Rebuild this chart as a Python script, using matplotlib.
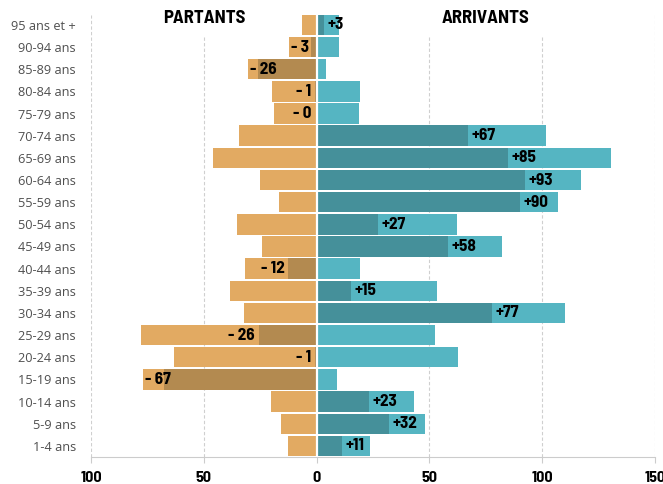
import matplotlib.pyplot as plt

# age groups, bottom to top
ages = ['1-4 ans', '5-9 ans', '10-14 ans', '15-19 ans', '20-24 ans', '25-29 ans',
        '30-34 ans', '35-39 ans', '40-44 ans', '45-49 ans', '50-54 ans', '55-59 ans',
        '60-64 ans', '65-69 ans', '70-74 ans', '75-79 ans', '80-84 ans', '85-89 ans',
        '90-94 ans', '95 ans et +']

partants = [12.7, 15.7, 20.0, 76.9, 63.4, 77.9, 32.4, 38.2, 31.6, 24.1, 35.1, 16.7,
            24.9, 45.9, 34.5, 19.1, 19.7, 30.5, 12.3, 6.5]
arrivants = [23.8, 48.0, 43.3, 9.2, 62.7, 52.3, 110.0, 53.3, 19.1, 82.2, 62.2, 107.0,
             117.3, 130.7, 101.6, 18.7, 19.1, 4.3, 9.8, 9.8]
solde_labels = ['+11', '+32', '+23', '- 67', '- 1', '- 26', '+77', '+15', '- 12', '+58',
                '+27', '+90', '+93', '+85', '+67', '- 0', '- 1', '- 26', '- 3', '+3']

c_part = '#E2AA62'
c_part_dark = '#B38A50'
c_arr = '#55B5C2'
c_arr_dark = '#45909A'

cond = ['Barlow Semi Condensed', 'DejaVu Sans']
bold = dict(family=cond, fontweight='bold', color='black')

fig = plt.figure(figsize=(6.63, 4.84), dpi=100)
ax = fig.add_axes([0.1373, 0.0558, 0.8506, 0.9152])

y = list(range(len(ages)))
h = 0.92

# grille
for gx in [-100, 150]:
    ax.plot([gx, gx], [-0.5, 19.45], ls=(0, (3, 2)), color='#cfcfcf', lw=0.8, zorder=0)
for gx in [-50, 50, 100]:
    ax.plot([gx, gx], [-0.5, 18.5], ls=(0, (3, 2)), color='#cfcfcf', lw=0.8, zorder=0)

ax.barh(y, [-p for p in partants], height=h, color=c_part, zorder=2)
ax.barh(y, arrivants, height=h, color=c_arr, zorder=2)

fs = 12.3
for i in y:
    s = arrivants[i] - partants[i]
    if s >= 0:
        ax.barh(i, s, height=h, color=c_arr_dark, zorder=3)
        ax.text(s + 1.5, i, solde_labels[i], ha='left', va='center', fontsize=fs, zorder=5, **bold)
    else:
        ax.barh(i, s, height=h, color=c_part_dark, zorder=3)
        xr = s - 1.8
        if xr - 10 < -partants[i]:
            ax.text(-partants[i] + 1, i, solde_labels[i], ha='left', va='center', fontsize=fs, zorder=5, **bold)
        else:
            ax.text(xr, i, solde_labels[i], ha='right', va='center', fontsize=fs, zorder=5, **bold)

# séparation blanche au zéro
ax.axvline(0, color='white', lw=1.6, zorder=4)

ax.text(-50, 19.3, 'PARTANTS', ha='center', va='center', fontsize=13.5, **bold)
ax.text(75, 19.3, 'ARRIVANTS', ha='center', va='center', fontsize=13.5, **bold)

ax.set_xlim(-100, 150)
ax.set_ylim(-0.5, 19.49)
ax.set_yticks(y)
ax.set_yticklabels(ages, family=['Open Sans', 'DejaVu Sans'], fontsize=9.2, color='#4f4f4f')
ax.tick_params(axis='y', length=0, pad=11)
xt = [-100, -50, 0, 50, 100, 150]
ax.set_xticks(xt)
ax.set_xticklabels([str(abs(v)) for v in xt], fontsize=11.5, **bold)
ax.tick_params(axis='x', length=4, color='#cccccc', pad=6)

for sp in ['left', 'right', 'top']:
    ax.spines[sp].set_visible(False)
ax.spines['bottom'].set_color('#cccccc')

fig.savefig('out.png', dpi=100)
